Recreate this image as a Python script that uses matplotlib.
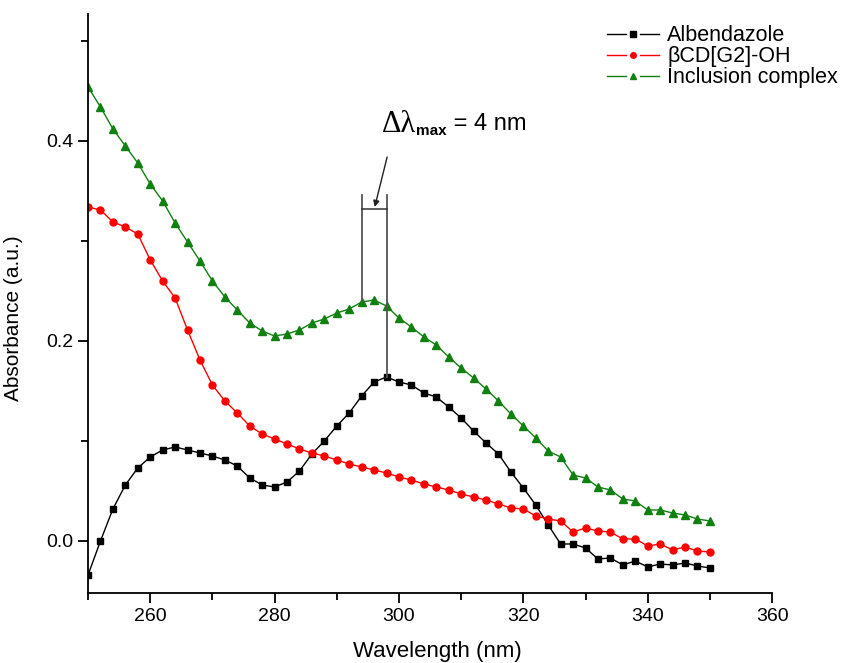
import matplotlib
matplotlib.use('Agg')
import matplotlib.pyplot as plt
from matplotlib.legend_handler import HandlerBase
from matplotlib.lines import Line2D
from matplotlib.ticker import MultipleLocator, FormatStrFormatter

plt.rcParams['font.family'] = ['Liberation Sans', 'DejaVu Sans']

# wavelengths, 250-350 nm every 2 nm
wavelength = list(range(250, 352, 2))

albendazole = [-0.034, 0.000, 0.032, 0.056, 0.073, 0.084, 0.091, 0.094, 0.091, 0.088,
               0.085, 0.081, 0.075, 0.063, 0.056, 0.054, 0.059, 0.070, 0.087, 0.100,
               0.115, 0.128, 0.145, 0.159, 0.164, 0.159, 0.156, 0.148, 0.144, 0.134,
               0.123, 0.110, 0.098, 0.087, 0.069, 0.053, 0.036, 0.016, -0.003, -0.003,
               -0.007, -0.018, -0.017, -0.024, -0.020, -0.026, -0.023, -0.024, -0.022, -0.025,
               -0.027]

bcd_g2_oh = [0.334, 0.331, 0.319, 0.314, 0.307, 0.281, 0.260, 0.243, 0.211, 0.181,
             0.156, 0.140, 0.128, 0.115, 0.107, 0.102, 0.097, 0.092, 0.088, 0.085,
             0.081, 0.077, 0.074, 0.071, 0.068, 0.064, 0.061, 0.057, 0.054, 0.051,
             0.047, 0.044, 0.041, 0.037, 0.033, 0.032, 0.025, 0.022, 0.020, 0.009,
             0.013, 0.010, 0.009, 0.002, 0.002, -0.005, -0.003, -0.009, -0.006, -0.010,
             -0.011]

inclusion = [0.454, 0.434, 0.412, 0.395, 0.378, 0.357, 0.340, 0.318, 0.299, 0.280,
             0.260, 0.244, 0.231, 0.218, 0.210, 0.205, 0.207, 0.211, 0.218, 0.222,
             0.228, 0.232, 0.239, 0.241, 0.235, 0.223, 0.214, 0.204, 0.196, 0.184,
             0.173, 0.163, 0.152, 0.140, 0.127, 0.115, 0.103, 0.090, 0.084, 0.066,
             0.063, 0.054, 0.051, 0.042, 0.040, 0.031, 0.031, 0.028, 0.026, 0.022,
             0.020]

# absorption maxima of the free drug and the complex
peak_complex = 294
peak_drug = 298


class GapLineHandler(HandlerBase):
    # legend key drawn as  — marker —
    def create_artists(self, legend, orig, xdescent, ydescent, width, height, fontsize, trans):
        y = height / 2 - ydescent
        x0 = -xdescent
        kw = dict(color=orig.get_color(), lw=1.0)
        left = Line2D([x0, x0 + width * 0.36], [y, y], **kw)
        right = Line2D([x0 + width * 0.64, x0 + width], [y, y], **kw)
        mark = Line2D([x0 + width / 2], [y], marker=orig.get_marker(), ls='none',
                      ms=orig.get_markersize() * 0.8, color=orig.get_color())
        for a in (left, right, mark):
            a.set_transform(trans)
        return [left, right, mark]


fig = plt.figure(figsize=(8.49, 6.63), dpi=100)
ax = fig.add_axes([0.1037, 0.1056, 0.8057, 0.8733])

l1, = ax.plot(wavelength, albendazole, color='black', marker='s', ms=4.8, lw=1.0,
              label='Albendazole')
l2, = ax.plot(wavelength, bcd_g2_oh, color='#ff0000', marker='o', ms=5, lw=1.0,
              label='βCD[G2]-OH')
l3, = ax.plot(wavelength, inclusion, color='#108010', marker='^', ms=6, lw=1.0,
              label='Inclusion complex')

# bracket marking the shift of the maximum
top = 0.346
i_c = wavelength.index(peak_complex)
i_d = wavelength.index(peak_drug)
ax.plot([peak_complex, peak_complex], [inclusion[i_c], top], color='#555555', lw=1.3)
ax.plot([peak_drug, peak_drug], [albendazole[i_d], top], color='#555555', lw=1.3)
ax.plot([peak_complex, peak_drug], [0.332, 0.332], color='#333333', lw=1.1)
ax.annotate('', xy=(296.1, 0.334), xytext=(298.1, 0.384),
            arrowprops=dict(arrowstyle='-|>', color='#222222', lw=1.0,
                            mutation_scale=9, shrinkA=0, shrinkB=0))

t1 = ax.text(297.3, 0.409, 'Δλ', fontsize=22, family='Liberation Serif',
             va='baseline', ha='left')
t2 = ax.annotate('max', xy=(1, 0), xycoords=t1, xytext=(0, 1),
                 textcoords='offset points', fontsize=11, fontweight='bold',
                 va='bottom', ha='left')
ax.annotate(' = 4 nm', xy=(1, 0), xycoords=t2, xytext=(0, 2),
            textcoords='offset points', fontsize=17, va='bottom', ha='left')

ax.set_xlim(250, 360)
ax.set_ylim(-0.052, 0.527)
ax.xaxis.set_major_locator(MultipleLocator(20))
ax.xaxis.set_minor_locator(MultipleLocator(10))
ax.yaxis.set_major_locator(MultipleLocator(0.2))
ax.yaxis.set_minor_locator(MultipleLocator(0.1))
ax.yaxis.set_major_formatter(FormatStrFormatter('%.1f'))

for side in ('top', 'right'):
    ax.spines[side].set_visible(False)
for side in ('left', 'bottom'):
    ax.spines[side].set_linewidth(1.3)
ax.tick_params(which='major', direction='out', length=7, width=1.3, labelsize=14)
ax.tick_params(which='minor', direction='out', length=5, width=1.3)

ax.set_xlabel('Wavelength (nm)', fontsize=16)
ax.set_ylabel('Absorbance (a.u.)', fontsize=15)
ax.xaxis.set_label_coords(0.51, -0.083)
ax.yaxis.set_label_coords(-0.095, 0.475)

fig.legend(handles=[l1, l2, l3], loc='upper left', bbox_to_anchor=(0.705, 0.975),
           frameon=False, fontsize=15.5, handlelength=2.4, handletextpad=0.4,
           labelspacing=0.0, borderaxespad=0,
           handler_map={Line2D: GapLineHandler()})

fig.savefig('out.png', dpi=100)
